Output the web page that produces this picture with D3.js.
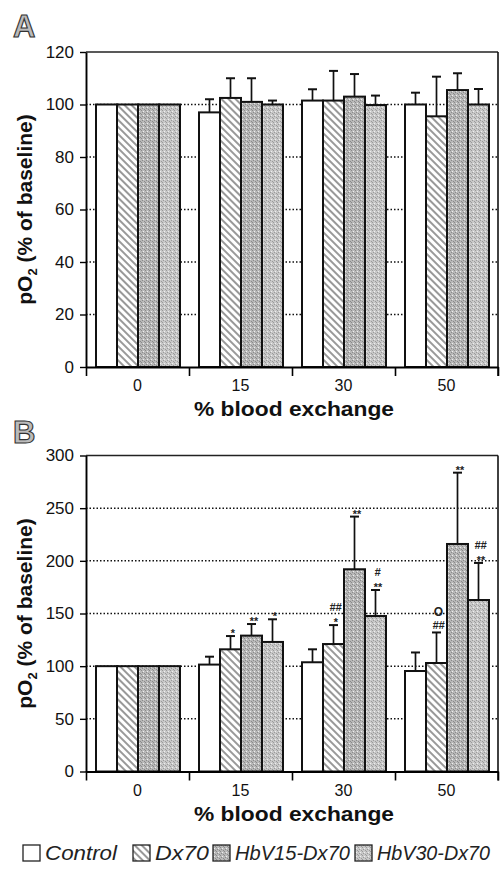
<!DOCTYPE html>
<html>
<head>
<meta charset="utf-8">
<script src="https://cdn.jsdelivr.net/npm/d3@7"></script>
<style>
  body { margin: 0; background: #fff; }
  svg { display: block; font-family: "Liberation Sans", Arial, sans-serif; }
</style>
</head>
<body>
<script>
const groups = ["0", "15", "30", "50"]
const series = ["Control", "Dx70", "HbV15-Dx70", "HbV30-Dx70"]

// panel A: pO2 means and SD (upper bar only)
const controlA = [100, 97, 101.5, 100]
const dx70A = [100, 102.5, 101.5, 95.5]
const hbv15A = [100, 101, 103, 105.5]
const hbv30A = [100, 100, 99.8, 100]
const controlAErr = [0, 5, 4.3, 4.5]
const dx70AErr = [0, 7.5, 11.3, 15.1]
const hbv15AErr = [0, 9, 8.6, 6.4]
const hbv30AErr = [0, 1.5, 3.6, 5.9]

// panel B
const controlB = [100, 101.5, 103.7, 95.4]
const dx70B = [100, 116, 121, 103]
const hbv15B = [100, 129, 192, 216]
const hbv30B = [100, 123, 147.6, 162.8]
const controlBErr = [0, 7.5, 12.3, 17.6]
const dx70BErr = [0, 12.6, 18, 29]
const hbv15BErr = [0, 11, 50, 67.7]
const hbv30BErr = [0, 21.5, 24.7, 35.2]

// significance marks in panel B (lines listed bottom to top)
const markGroup = ["15", "15", "15", "30", "30", "30", "50", "50", "50"]
const markSeries = ["Dx70", "HbV15-Dx70", "HbV30-Dx70", "Dx70", "HbV15-Dx70", "HbV30-Dx70", "Dx70", "HbV15-Dx70", "HbV30-Dx70"]
const markText = [["*"], ["**"], ["*"], ["*", "##"], ["**"], ["**", "#"], ["##", "O"], ["**"], ["**", "##"]]

const ticksA = [0, 20, 40, 60, 80, 100, 120]
const ticksB = [0, 50, 100, 150, 200, 250, 300]

const W = 502, H = 869
const svg = d3.select("body").append("svg").attr("width", W).attr("height", H)
svg.append("rect").attr("width", W).attr("height", H).attr("fill", "#fff")

const defs = svg.append("defs")
const hatch = defs.append("pattern").attr("id", "hatch")
    .attr("patternUnits", "userSpaceOnUse").attr("width", 5).attr("height", 5)
    .attr("patternTransform", "rotate(-45)")
hatch.append("rect").attr("width", 5).attr("height", 5).attr("fill", "#fff")
hatch.append("line").attr("x1", 1).attr("x2", 1).attr("y1", 0).attr("y2", 5)
    .attr("stroke", "#333").attr("stroke-width", 1)

function stipple(id, base, dark) {
  const p = defs.append("pattern").attr("id", id)
      .attr("patternUnits", "userSpaceOnUse").attr("width", 4).attr("height", 4)
  p.append("rect").attr("width", 4).attr("height", 4).attr("fill", base)
  p.append("rect").attr("x", 0).attr("y", 0).attr("width", 1).attr("height", 1).attr("fill", dark)
  p.append("rect").attr("x", 2).attr("y", 1).attr("width", 1).attr("height", 1).attr("fill", dark)
  p.append("rect").attr("x", 1).attr("y", 3).attr("width", 1).attr("height", 1).attr("fill", "#eee")
  p.append("rect").attr("x", 3).attr("y", 2).attr("width", 1).attr("height", 1).attr("fill", dark)
}
stipple("dots15", "#b8b8b8", "#8a8a8a")
stipple("dots30", "#c8c8c8", "#9a9a9a")

const fills = ["#fff", "url(#hatch)", "url(#dots15)", "url(#dots30)"]

const x0 = d3.scaleBand().domain(groups).range([86, 498])
const x1 = d3.scaleBand().domain(series).range([10, 94])

function drawPanel(cfg) {
  const y = d3.scaleLinear().domain([0, cfg.max]).range([cfg.bottom, cfg.top])
  const g = svg.append("g")

  // dotted grid
  g.selectAll(".grid").data(cfg.ticks.filter(d => d > 0 && d < cfg.max)).enter()
    .append("line")
      .attr("x1", 86).attr("x2", 498)
      .attr("y1", d => y(d)).attr("y2", d => y(d))
      .attr("stroke", "#111").attr("stroke-width", 1.5)
      .attr("stroke-dasharray", "1.5,2")

  // bars
  const rows = []
  groups.forEach(function (grp, gi) {
    series.forEach(function (s, si) {
      rows.push({ grp: grp, s: s, si: si, v: cfg.values[si][gi], e: cfg.errors[si][gi] })
    })
  })

  const bar = g.selectAll(".bar").data(rows).enter().append("g")
      .attr("transform", d => `translate(${x0(d.grp) + x1(d.s)},0)`)

  bar.filter(d => d.e > 0).append("line")
      .attr("x1", x1.bandwidth() / 2).attr("x2", x1.bandwidth() / 2)
      .attr("y1", d => y(d.v)).attr("y2", d => y(d.v + d.e))
      .attr("stroke", "#111").attr("stroke-width", 1.7)
  bar.filter(d => d.e > 0).append("line")
      .attr("x1", x1.bandwidth() / 2 - 4.5).attr("x2", x1.bandwidth() / 2 + 4.5)
      .attr("y1", d => y(d.v + d.e)).attr("y2", d => y(d.v + d.e))
      .attr("stroke", "#111").attr("stroke-width", 2)

  bar.append("rect")
      .attr("x", 0).attr("width", x1.bandwidth())
      .attr("y", d => y(d.v)).attr("height", d => y(0) - y(d.v))
      .attr("fill", d => fills[d.si])
      .attr("stroke", "#111").attr("stroke-width", 2)

  // frame
  g.append("line").attr("x1", 86).attr("x2", 498).attr("y1", y(cfg.max)).attr("y2", y(cfg.max))
      .attr("stroke", "#222").attr("stroke-width", 1.3)
  g.append("line").attr("x1", 498).attr("x2", 498).attr("y1", y(cfg.max)).attr("y2", y(0) + 9)
      .attr("stroke", "#111").attr("stroke-width", 1.6)

  const yAxis = g.append("g").attr("transform", "translate(86,0)")
      .call(d3.axisLeft(y).tickValues(cfg.ticks).tickSize(6).tickSizeOuter(0))
  yAxis.select(".domain").attr("stroke-width", 1.9)
  yAxis.selectAll(".tick line").attr("stroke-width", 1.4)
  yAxis.selectAll(".tick text").attr("font-size", 17).attr("font-family", "Liberation Sans, Arial, sans-serif")
      .attr("fill", "#111").attr("x", -12)

  const bx = d3.scaleLinear().domain([0, groups.length]).range([86, 498])
  const bAxis = g.append("g").attr("transform", `translate(0,${y(0)})`)
      .call(d3.axisBottom(bx).ticks(4).tickFormat("").tickSize(9).tickSizeOuter(0))
  bAxis.select(".domain").attr("stroke-width", 1.9)
  bAxis.selectAll(".tick line").attr("stroke-width", 1.6)

  const lAxis = g.append("g").attr("transform", `translate(0,${y(0)})`)
      .call(d3.axisBottom(x0).tickSize(0))
  lAxis.select(".domain").remove()
  lAxis.selectAll(".tick text").attr("font-size", 16).attr("font-family", "Liberation Sans, Arial, sans-serif")
      .attr("fill", "#111").attr("y", 13).attr("dy", "0.71em")

  g.append("text").attr("x", 294).attr("y", y(0) + 49)
      .attr("text-anchor", "middle").attr("font-size", 20).attr("font-weight", "bold")
      .attr("textLength", 200).attr("lengthAdjust", "spacingAndGlyphs")
      .attr("fill", "#111").text("% blood exchange")

  const yl = g.append("text")
      .attr("transform", `translate(32,${(cfg.top + cfg.bottom) / 2}) rotate(-90)`)
      .attr("text-anchor", "middle").attr("font-size", 21).attr("font-weight", "bold")
      .attr("fill", "#111")
  yl.append("tspan").text("pO")
  yl.append("tspan").attr("font-size", 13).attr("dy", 5).text("2")
  yl.append("tspan").attr("dy", -5).text(" (% of baseline)")

  g.append("text").attr("x", 13).attr("y", cfg.labelY)
      .attr("font-size", 31).attr("font-weight", "bold")
      .attr("fill", "#bbb").attr("stroke", "#333").attr("stroke-width", 1.1)
      .text(cfg.label)

  return y
}

drawPanel({
  label: "A", labelY: 37, max: 120, ticks: ticksA, top: 52, bottom: 367,
  values: [controlA, dx70A, hbv15A, hbv30A],
  errors: [controlAErr, dx70AErr, hbv15AErr, hbv30AErr]
})

const yB = drawPanel({
  label: "B", labelY: 443, max: 300, ticks: ticksB, top: 455.5, bottom: 771.5,
  values: [controlB, dx70B, hbv15B, hbv30B],
  errors: [controlBErr, dx70BErr, hbv15BErr, hbv30BErr]
})

// significance marks
const valsB = [controlB, dx70B, hbv15B, hbv30B]
const errsB = [controlBErr, dx70BErr, hbv15BErr, hbv30BErr]
markText.forEach(function (lines, i) {
  const gi = groups.indexOf(markGroup[i])
  const si = series.indexOf(markSeries[i])
  const capY = yB(valsB[si][gi] + errsB[si][gi])
  const cx = x0(markGroup[i]) + x1(markSeries[i]) + x1.bandwidth() / 2 + 2
  lines.forEach(function (t, li) {
    svg.append("text")
        .attr("x", cx).attr("y", capY - (t === "O" ? 5 : 3) - li * 11 + (t.indexOf("*") >= 0 ? 4 : 0))
        .attr("text-anchor", "middle")
        .attr("font-size", t === "O" ? 12 : 11).attr("font-weight", "bold")
        .attr("font-style", t === "O" ? "normal" : "italic")
        .attr("fill", "#222").text(t)
  })
})

// legend
const legX = [23, 133, 213, 355]
const legW = [72, 54, 115, 113]
const leg = svg.append("g").selectAll("g").data(series).enter().append("g")
    .attr("transform", (d, i) => `translate(${legX[i]},845)`)
leg.append("rect").attr("width", 17).attr("height", 16)
    .attr("fill", (d, i) => fills[i]).attr("stroke", "#222").attr("stroke-width", 1.3)
leg.append("text").attr("x", 22).attr("y", 15)
    .attr("font-size", 20).attr("font-style", "italic").attr("fill", "#222")
    .attr("textLength", (d, i) => legW[i]).attr("lengthAdjust", "spacingAndGlyphs")
    .text(d => d)
</script>
</body>
</html>
